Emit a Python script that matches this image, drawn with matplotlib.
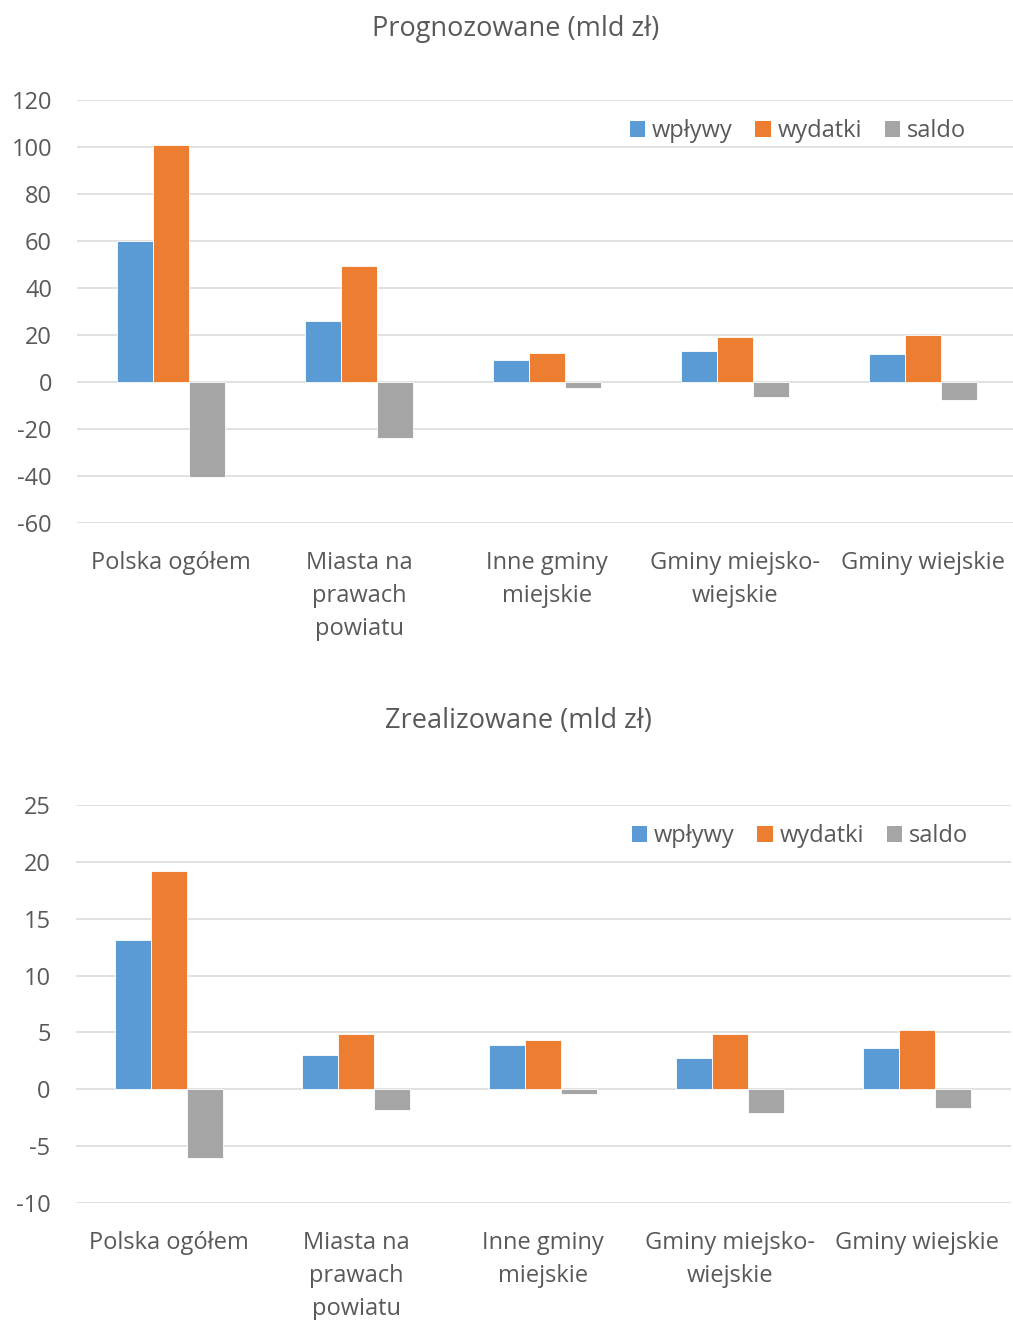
import matplotlib
matplotlib.use("Agg")
import matplotlib.pyplot as plt
import numpy as np
from matplotlib.patches import Patch

plt.rcParams['font.family'] = ['Open Sans', 'DejaVu Sans']

categories = ["Polska ogółem", "Miasta na\nprawach\npowiatu", "Inne gminy\nmiejskie",
              "Gminy miejsko-\nwiejskie", "Gminy wiejskie"]
series_names = ["wpływy", "wydatki", "saldo"]

# Prognozowane (mld zł)
prog_wplywy = [60.1, 26.1, 9.4, 13.1, 11.8]
prog_wydatki = [100.8, 49.4, 12.2, 19.3, 19.9]
prog_saldo = [-40.6, -23.7, -2.7, -6.5, -7.7]

# Zrealizowane (mld zł)
zreal_wplywy = [13.1, 3.0, 3.86, 2.72, 3.59]
zreal_wydatki = [19.2, 4.82, 4.35, 4.82, 5.2]
zreal_saldo = [-6.0, -1.8, -0.44, -2.1, -1.61]

prog_ticks = [-60, -40, -20, 0, 20, 40, 60, 80, 100, 120]
zreal_ticks = [-10, -5, 0, 5, 10, 15, 20, 25]

colors = ["#5B9BD5", "#ED7D31", "#A5A5A5"]
text_color = "#595959"
grid_color = "#D9D9D9"

W, H = 1013, 1320
fig = plt.figure(figsize=(W / 100, H / 100), dpi=100)


def px_axes(left, top, right, bottom):
    return fig.add_axes([left / W, 1 - bottom / H, (right - left) / W, (bottom - top) / H])


def draw_panel(ax, data, ticks, title, title_xy, legend_xy):
    x = np.arange(len(categories))
    bw = 0.192
    for i, (vals, c) in enumerate(zip(data, colors)):
        ax.bar(x + (i - 1) * bw, vals, width=bw, color=c, edgecolor="white",
               linewidth=0.6, zorder=3)
    ax.set_xlim(-0.5, len(categories) - 0.5)
    ax.set_ylim(ticks[0], ticks[-1])
    ax.set_yticks(ticks)
    ax.set_yticklabels([str(t) for t in ticks])
    ax.yaxis.grid(True, color=grid_color, linewidth=1.1, zorder=0)
    ax.set_axisbelow(True)
    for s in ax.spines.values():
        s.set_visible(False)
    ax.tick_params(axis="both", length=0, colors=text_color, labelsize=17)
    ax.tick_params(axis="y", pad=18)
    ax.tick_params(axis="x", pad=20)
    ax.set_xticks(x)
    ax.set_xticklabels(categories, linespacing=1.52)
    fig.text(title_xy[0] / W, 1 - title_xy[1] / H, title, ha="center", va="center",
             fontsize=19.5, color=text_color)
    handles = [Patch(facecolor=c, edgecolor="none") for c in colors]
    fig.legend(handles, series_names, loc="center",
               bbox_to_anchor=(legend_xy[0] / W, 1 - legend_xy[1] / H),
               ncol=3, frameon=False, fontsize=17, labelcolor=text_color,
               handlelength=0.65, handleheight=0.65, handletextpad=0.3,
               columnspacing=0.95)


ax1 = px_axes(77, 100, 1017, 523)
draw_panel(ax1, [prog_wplywy, prog_wydatki, prog_saldo], prog_ticks,
           "Prognozowane (mld zł)", (516, 29), (798, 131))

ax2 = px_axes(75.5, 805, 1010.5, 1203)
draw_panel(ax2, [zreal_wplywy, zreal_wydatki, zreal_saldo], zreal_ticks,
           "Zrealizowane (mld zł)", (518, 721), (800, 836))

fig.savefig("out.png", dpi=100, facecolor="white")
